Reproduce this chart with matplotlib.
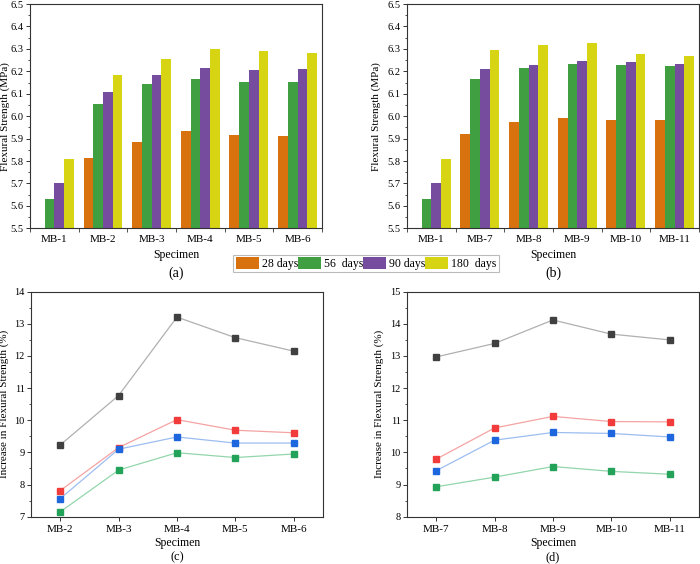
import matplotlib
matplotlib.use("Agg")
import matplotlib.pyplot as plt
import numpy as np
from matplotlib.patches import Patch
from matplotlib.ticker import MultipleLocator, FixedLocator, FormatStrFormatter

plt.rcParams['font.family'] = ['Liberation Serif', 'DejaVu Serif']

# ---------------- data ----------------
specimens_a = ["MB-1", "MB-2", "MB-3", "MB-4", "MB-5", "MB-6"]
specimens_b = ["MB-1", "MB-7", "MB-8", "MB-9", "MB-10", "MB-11"]
ages = ["28 days", "56  days", "90 days", "180  days"]

a_28 = [np.nan, 5.812, 5.883, 5.934, 5.915, 5.912]
a_56 = [5.63, 6.056, 6.143, 6.164, 6.154, 6.154]
a_90 = [5.70, 6.108, 6.183, 6.215, 6.206, 6.212]
a_180 = [5.81, 6.183, 6.255, 6.298, 6.290, 6.283]

b_28 = [np.nan, 5.920, 5.973, 5.992, 5.983, 5.983]
b_56 = [5.63, 6.164, 6.216, 6.233, 6.230, 6.222]
b_90 = [5.70, 6.210, 6.228, 6.247, 6.240, 6.234]
b_180 = [5.81, 6.295, 6.317, 6.327, 6.277, 6.270]

specimens_c = ["MB-2", "MB-3", "MB-4", "MB-5", "MB-6"]
c_gray = [9.23, 10.77, 13.21, 12.57, 12.15]
c_red = [7.81, 9.15, 10.02, 9.69, 9.61]
c_blue = [7.56, 9.10, 9.48, 9.29, 9.29]
c_green = [7.15, 8.45, 8.99, 8.84, 8.95]

specimens_d = ["MB-7", "MB-8", "MB-9", "MB-10", "MB-11"]
d_gray = [12.97, 13.39, 14.12, 13.68, 13.50]
d_red = [9.79, 10.76, 11.12, 10.96, 10.95]
d_blue = [9.43, 10.38, 10.62, 10.59, 10.48]
d_green = [8.93, 9.23, 9.56, 9.41, 9.32]

bar_colors = ["#d8720f", "#3f9f41", "#764c9e", "#d7d413"]
marker_colors = ["#404040", "#f23c3c", "#1e66dd", "#23a35a"]
line_colors = ["#b0b0b0", "#f5a3a3", "#9dbdf0", "#93d6ac"]

FIG_W, FIG_H = 700, 564
fig = plt.figure(figsize=(7.0, 5.64), dpi=100)

W = 0.417
H_top = 0.3977
H_bot = 0.3989
ax_a = fig.add_axes([0.0429, 0.5952, W, H_top])
ax_b = fig.add_axes([0.5814, 0.5952, W, H_top])
ax_c = fig.add_axes([0.0443, 0.0839, W, H_bot])
ax_d = fig.add_axes([0.5814, 0.0839, W, H_bot])

def style(ax):
    for s in ax.spines.values():
        s.set_linewidth(0.8)
        s.set_color("#333333")
    ax.tick_params(axis='both', which='major', direction='out', length=3,
                   width=0.7, labelsize=7.5, pad=1.5, colors="#333333",
                   labelcolor="black")
    ax.tick_params(axis='both', which='minor', direction='out', length=1.8,
                   width=0.6, colors="#333333")

def bars(ax, cats, series):
    x = np.arange(len(cats))
    w = 0.2
    offs = [-0.3, -0.1, 0.1, 0.3]
    for vals, c, o in zip(series, bar_colors, offs):
        v = np.array(vals, dtype=float)
        ax.bar(x + o, v - 5.5, bottom=5.5, width=w, color=c, edgecolor='none')
    ax.set_xlim(-0.5, len(cats) - 0.5)
    ax.set_ylim(5.5, 6.5)
    ax.yaxis.set_major_locator(MultipleLocator(0.1))
    ax.yaxis.set_minor_locator(MultipleLocator(0.05))
    ax.yaxis.set_major_formatter(FormatStrFormatter('%.1f'))
    ax.set_xticks(x)
    ax.set_xticklabels(cats)
    ax.xaxis.set_minor_locator(FixedLocator(np.arange(-0.5, len(cats) - 0.4, 1.0)))
    ax.set_ylabel("Flexural Strength (MPa)", fontsize=8)
    style(ax)
    ax.tick_params(axis='x', which='major', length=0, pad=5, labelsize=8)
    ax.tick_params(axis='x', which='minor', length=3)

def lines(ax, cats, series, ylim):
    x = np.arange(len(cats))
    for vals, mc, lc in zip(series, marker_colors, line_colors):
        ax.plot(x, vals, color=lc, lw=0.9, zorder=2)
        ax.plot(x, vals, ls='none', marker='s', ms=4.3, color=mc, zorder=3)
    ax.set_xlim(-0.5, len(cats) - 0.5)
    ax.set_ylim(*ylim)
    ax.yaxis.set_major_locator(MultipleLocator(1))
    ax.yaxis.set_minor_locator(MultipleLocator(0.5))
    ax.set_xticks(x)
    ax.set_xticklabels(cats)
    ax.set_ylabel("Increase in Flexural Strength (%)", fontsize=8)
    style(ax)
    ax.tick_params(axis='x', which='major', pad=3, labelsize=8)

bars(ax_a, specimens_a, [a_28, a_56, a_90, a_180])
bars(ax_b, specimens_b, [b_28, b_56, b_90, b_180])
lines(ax_c, specimens_c, [c_gray, c_red, c_blue, c_green], (7, 14))
lines(ax_d, specimens_d, [d_gray, d_red, d_blue, d_green], (8, 15))

# y-label positions (axes fraction)
ax_a.yaxis.set_label_coords(-0.069, 0.5)
ax_b.yaxis.set_label_coords(-0.088, 0.5)
ax_c.yaxis.set_label_coords(-0.077, 0.5)
ax_d.yaxis.set_label_coords(-0.080, 0.5)

def ftext(xpix, ypix, s, size):
    fig.text(xpix / FIG_W, 1 - ypix / FIG_H, s, ha='center', va='center',
             fontsize=size)

ftext(176, 255, "Specimen", 8.5)
ftext(176, 273, "(a)", 10)
ftext(553, 255, "Specimen", 8.5)
ftext(553, 273, "(b)", 10)
ftext(177, 543, "Specimen", 8.5)
ftext(177, 557, "(c)", 9)
ftext(553, 543, "Specimen", 8.5)
ftext(553, 557, "(d)", 9)

handles = [Patch(facecolor=c, edgecolor='none') for c in bar_colors]
leg = fig.legend(handles, ages, loc='center', ncol=4,
                 bbox_to_anchor=(366 / FIG_W, 1 - 263.5 / FIG_H),
                 fontsize=8.5, frameon=True, fancybox=False,
                 handlelength=1.95, handleheight=1.15, handletextpad=0.25,
                 columnspacing=0.0, borderpad=0.2, borderaxespad=0)
leg.get_frame().set_edgecolor("#aaaaaa")
leg.get_frame().set_linewidth(0.8)

fig.savefig("out.png", dpi=100)
